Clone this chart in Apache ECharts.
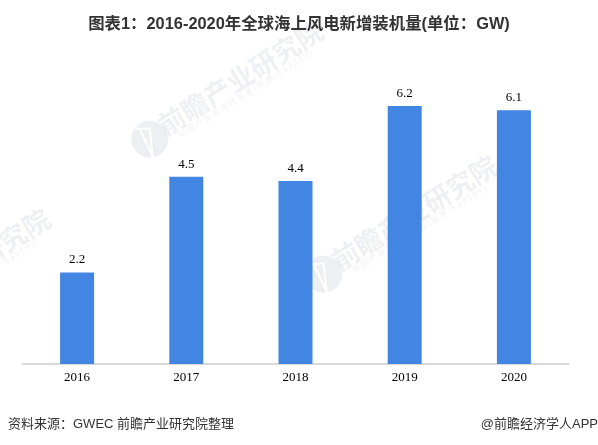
<!DOCTYPE html>
<html><head><meta charset="utf-8">
<style>html,body{margin:0;padding:0;background:#fff}#c{width:598px;height:445px}</style>
<script src="https://cdn.jsdelivr.net/npm/echarts@6/dist/echarts.min.js"></script>
</head><body><div id="c"></div>
<script>
const categories = ["2016","2017","2018","2019","2020"];
const values = [2.2,4.5,4.4,6.2,6.1];
const titleText = "图表1：2016-2020年全球海上风电新增装机量(单位：GW)";
const sourceText = "资料来源：GWEC 前瞻产业研究院整理";
const creditText = "@前瞻经济学人APP";
const wmMain = "前瞻产业研究院";
const wmSub = "中 国 产 业 咨 询 领 导 者 ( 股 票 : 8 3 9 5 9 9 )";
const cjk = '"Liberation Sans","Noto Sans CJK SC",sans-serif';
function wm(x,y){
  const rot = 32*Math.PI/180, cs=Math.cos(rot), sn=Math.sin(rot);
  const c='rgba(120,135,165,0.13)', t='rgba(120,135,165,0.12)';
  const lp=(dx,dy)=>[-30+dx*cs-dy*sn, 4+dx*sn+dy*cs];
  const cut=(pts)=>({type:'polyline',z:1,shape:{points:pts.map(p=>lp(p[0],p[1]))},
    style:{stroke:'#fff',lineWidth:2,fill:null}});
  return {type:'group',x:x,y:y,rotation:rot,silent:true,children:[
    {type:'circle',z:0,shape:{cx:-30,cy:4,r:18.5},style:{fill:c}},
    cut([[-19,-12],[-10,-10],[4,19]]),
    cut([[-10,-10],[0,-11],[3,19]]),
    {type:'text',z:0,style:{x:-15,y:0,text:wmMain,fill:t,font:'bold 27px "Noto Sans CJK SC"',verticalAlign:'middle'}},
    {type:'text',z:0,style:{x:-3,y:16,text:wmSub,fill:t,font:'8px "Noto Sans CJK SC"',verticalAlign:'middle'}}
  ]};
}
const serif = '"Liberation Serif","Noto Serif CJK SC",serif';
const chart = echarts.init(document.getElementById('c'),null,{renderer:'canvas'});
chart.setOption({
  animation:false,
  backgroundColor:'#fff',
  title:{text:titleText,left:'center',top:16,padding:0,
    textStyle:{fontFamily:cjk,fontSize:16.4,fontWeight:'bold',color:'#333'}},
  grid:{left:22.5,right:29.5,top:72.8,bottom:81},
  xAxis:{type:'category',data:categories,
    axisTick:{show:false},
    axisLine:{lineStyle:{color:'#d9d9d9',width:2}},
    axisLabel:{fontFamily:serif,fontSize:13,color:'#000',margin:7}},
  yAxis:{type:'value',min:0,max:7,show:false,splitLine:{show:false}},
  series:[{type:'bar',data:values,barWidth:34,z:5,itemStyle:{color:'#4285e3'},
    label:{show:true,position:'top',distance:6,fontFamily:serif,fontSize:13,color:'#000',
      formatter:p=>p.value.toFixed(1)}}],
  graphic:[
    {type:'text',left:8,top:418,style:{text:sourceText,fill:'#333',font:'13px '+cjk}},
    {type:'text',right:0,top:418,style:{text:creditText,fill:'#333',font:'13px '+cjk}},
    wm(173,120),wm(-100,308),wm(347,255)
  ]
});
</script></body></html>
